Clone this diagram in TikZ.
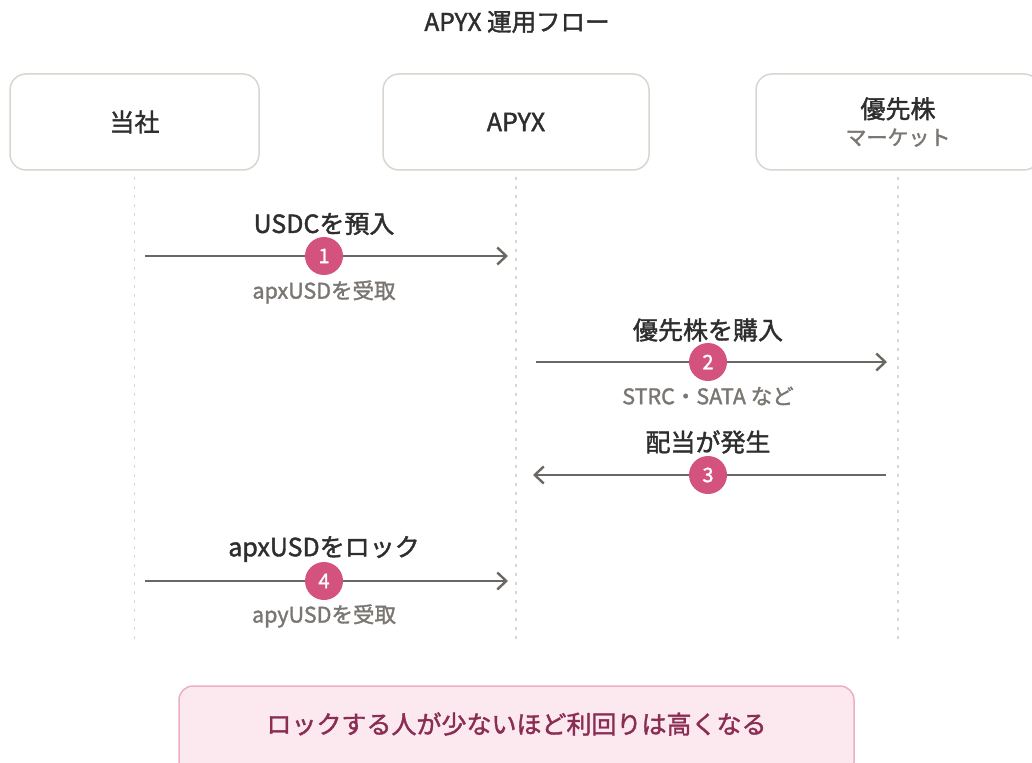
\documentclass[tikz,border=0pt]{standalone}
\usepackage{fontspec}
\setmainfont[FakeBold=1.6]{Noto Sans CJK JP}
\usetikzlibrary{arrows.meta}
\definecolor{ink}{HTML}{2E2E2E}
\definecolor{subgray}{HTML}{7A7672}
\definecolor{boxline}{HTML}{DAD6CF}
\definecolor{arrowgray}{HTML}{6B6763}
\definecolor{badge}{HTML}{D4527E}
\definecolor{notefill}{HTML}{FCE8EF}
\definecolor{noteline}{HTML}{EBAFC3}
\definecolor{notetext}{HTML}{8A2D52}
\tikzset{
  actor/.style={draw=boxline, line width=1.5pt, fill=white, rounded corners=16pt,
    minimum height=96pt, inner sep=0pt, align=center, text=ink, font=\fontsize{25}{30}\selectfont},
  lifeline/.style={draw=boxline, line width=1.6pt, dash pattern=on 3pt off 6pt},
  msg/.style={draw=arrowgray, line width=2.4pt, -{Straight Barb[length=9pt,width=17pt,line width=2.4pt]}},
  badgenode/.style={circle, fill=badge, minimum size=38pt, inner sep=0pt, text=white,
    font=\fontsize{20}{20}\selectfont},
  toplabel/.style={text=ink, font=\fontsize{25}{28}\selectfont, inner sep=0pt},
  sublabel/.style={text=subgray, font=\fontsize{21.5}{24}\selectfont, inner sep=0pt},
}
\begin{document}
\begin{tikzpicture}[x=1pt,y=-1pt]
\useasboundingbox (0,0) rectangle (1032,762);
\clip (0,0) rectangle (1032,762);
\node[text=ink, font=\fontsize{24.5}{28}\selectfont, inner sep=0pt] (title) at (517,22) {APYX 運用フロー};
% actors
\node[actor, minimum width=249pt] (co) at (134.5,122) {当社};
\node[actor, minimum width=266pt] (apyx) at (516,122) {APYX};
\node[actor, minimum width=284pt] (mkt) at (898,122) {優先株\\[-3pt]{\color{subgray}\fontsize{21}{26}\selectfont マーケット}};
% lifelines
\coordinate (coend) at (134.5,640);
\coordinate (apend) at (516,640);
\coordinate (mkend) at (898,640);
\path[lifeline] ([yshift=-6pt]co.south) -- (coend);
\path[lifeline] ([yshift=-6pt]apyx.south) -- (apend);
\path[lifeline] ([yshift=-6pt]mkt.south) -- (mkend);
% message 1
\coordinate (m1s) at (145,256);
\coordinate (m1e) at (508,256);
\draw[msg] (m1s) -- (m1e);
\node[badgenode] (b1) at (324,256) {1};
\node[toplabel] (t1) at (324,224) {USDCを預入};
\node[sublabel] (s1) at (324,292) {apxUSDを受取};
% message 2
\coordinate (m2s) at (536,362);
\coordinate (m2e) at (887,362);
\draw[msg] (m2s) -- (m2e);
\node[badgenode] (b2) at (708,362) {2};
\node[toplabel] (t2) at (708,330) {優先株を購入};
\node[sublabel] (s2) at (708,396) {STRC・SATA など};
% message 3
\coordinate (m3s) at (886,475);
\coordinate (m3e) at (533,475);
\draw[msg] (m3s) -- (m3e);
\node[badgenode] (b3) at (708,475) {3};
\node[toplabel] (t3) at (708,442) {配当が発生};
% message 4
\coordinate (m4s) at (145,581);
\coordinate (m4e) at (508,581);
\draw[msg] (m4s) -- (m4e);
\node[badgenode] (b4) at (324,581) {4};
\node[toplabel] (t4) at (324,549) {apxUSDをロック};
\node[sublabel] (s4) at (324,616) {apyUSDを受取};
% note
\node[draw=noteline, line width=1.5pt, fill=notefill, rounded corners=14pt,
  minimum width=675pt, minimum height=90pt, inner sep=0pt] (note) at (516.5,731) {};
\node[text=notetext, font=\fontsize{25}{28}\selectfont, inner sep=0pt] (notetxt) at (516.5,724) {ロックする人が少ないほど利回りは高くなる};
\end{tikzpicture}
\end{document}
